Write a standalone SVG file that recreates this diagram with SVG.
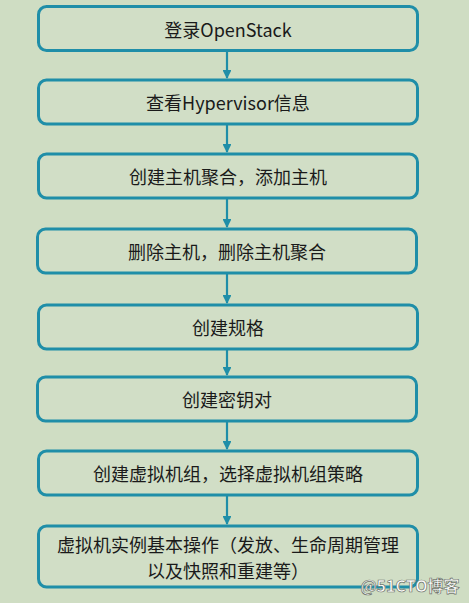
<svg xmlns="http://www.w3.org/2000/svg" width="469" height="603" viewBox="0 0 469 603">
<style>
.box{fill:#d1dec6;stroke:#1f8ea8;stroke-width:3}
.t{font-family:"Noto Sans CJK SC","Noto Sans",sans-serif;font-size:18px;fill:#1a1a1a;text-anchor:middle;dominant-baseline:central}
.c{stroke:#1f8ea8;stroke-width:2.2;fill:none;marker-end:url(#ah)}
</style>
<defs>
<marker id="ah" viewBox="0 0 10 10" refX="9" refY="5" markerWidth="4" markerHeight="4" orient="auto" markerUnits="strokeWidth">
<path d="M0,0 L10,5 L0,10 z" fill="#1f8ea8"/>
</marker>
</defs>
<rect width="469" height="603" fill="#cfddc3"/>
<g id="connectors">
<line class="c" x1="227" y1="51" x2="227" y2="78"/>
<line class="c" x1="227" y1="124" x2="227" y2="152"/>
<line class="c" x1="227" y1="198" x2="227" y2="227"/>
<line class="c" x1="227" y1="274" x2="227" y2="303"/>
<line class="c" x1="227" y1="349" x2="227" y2="375"/>
<line class="c" x1="227" y1="421" x2="227" y2="449"/>
<line class="c" x1="227" y1="495" x2="227" y2="524"/>
</g>
<g id="n1"><rect class="box" x="38.5" y="6.5" width="379" height="44" rx="8"/><text class="t" x="228" y="29">登录OpenStack</text></g>
<g id="n2"><rect class="box" x="38.5" y="80" width="379" height="44" rx="8"/><text class="t" x="228" y="102">查看Hypervisor信息</text></g>
<g id="n3"><rect class="box" x="38.5" y="154" width="379" height="44" rx="8"/><text class="t" x="228" y="176">创建主机聚合，添加主机</text></g>
<g id="n4"><rect class="box" x="37.5" y="229" width="379" height="44" rx="8"/><text class="t" x="227" y="251">删除主机，删除主机聚合</text></g>
<g id="n5"><rect class="box" x="38.5" y="305" width="379" height="44" rx="8"/><text class="t" x="228" y="327">创建规格</text></g>
<g id="n6"><rect class="box" x="37.5" y="377" width="379" height="44" rx="8"/><text class="t" x="227" y="399">创建密钥对</text></g>
<g id="n7"><rect class="box" x="38.5" y="451" width="379" height="44" rx="8"/><text class="t" x="228" y="473">创建虚拟机组，选择虚拟机组策略</text></g>
<g id="n8"><rect class="box" x="38.5" y="526" width="379" height="61" rx="8"/><text class="t"><tspan x="228" y="544">虚拟机实例基本操作（发放、生命周期管理</tspan><tspan x="228" y="570">以及快照和重建等）</tspan></text></g>
<text x="410" y="585" font-family="'Noto Sans CJK SC','Noto Sans',sans-serif" font-size="16" font-weight="bold" fill="#ffffff" stroke="#6f756c" stroke-width="0.7" text-anchor="middle" dominant-baseline="central">@51CTO博客</text>
</svg>
